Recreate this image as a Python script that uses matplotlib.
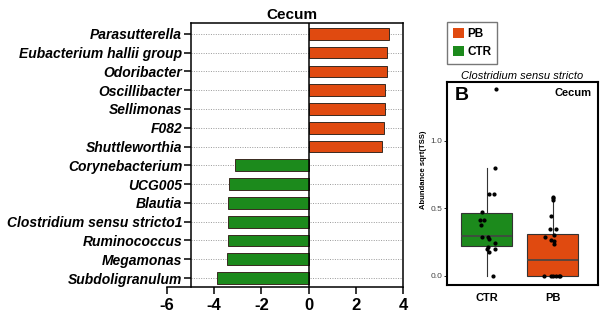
import matplotlib.pyplot as plt
import numpy as np

plt.rcParams['font.family'] = ['Liberation Sans', 'DejaVu Sans']

# LDA scores, Cecum
genera = ["Parasutterella", "Eubacterium hallii group", "Odoribacter", "Oscillibacter",
          "Sellimonas", "F082", "Shuttleworthia", "Corynebacterium", "UCG005", "Blautia",
          "Clostridium sensu stricto1", "Ruminococcus", "Megamonas", "Subdoligranulum"]
scores = [3.40, 3.33, 3.31, 3.26, 3.23, 3.19, 3.13,
          -3.13, -3.37, -3.41, -3.41, -3.42, -3.47, -3.87]

# Clostridium sensu stricto abundance, box stats + individual samples
groups = ["CTR", "PB"]
q1 = [0.222, 0.0]
med = [0.294, 0.116]
q3 = [0.462, 0.309]
whislo = [0.0, 0.0]
whishi = [0.80, 0.585]
ctr_vals = [1.38, 0.80, 0.605, 0.605, 0.47, 0.41, 0.41, 0.375, 0.285, 0.285, 0.27,
            0.24, 0.215, 0.20, 0.198, 0.173, 0.0]
ctr_jit = [0.15, 0.13, 0.03, 0.12, -0.07, -0.10, -0.035, -0.09, -0.07, 0.02, 0.03,
           0.13, 0.02, 0.0, 0.13, 0.04, 0.10]
pb_vals = [0.585, 0.573, 0.56, 0.44, 0.343, 0.343, 0.30, 0.289, 0.264, 0.257, 0.232,
           0.0, 0.0, 0.0, 0.0, 0.0, 0.0]
pb_jit = [0.005, 0.005, 0.005, -0.03, -0.035, 0.055, 0.02, -0.12, -0.02, 0.02, 0.02,
          -0.136, -0.02, 0.0, 0.05, 0.096, 0.116]

orange = '#e04a10'
green = '#1c8a1c'

fig = plt.figure(figsize=(6, 3.24), dpi=100)

# ---- diverging bar chart ----
ax = fig.add_axes([0.2783, 0.1157, 0.3933, 0.812])
y = np.arange(len(genera))
colors = [orange if s > 0 else green for s in scores]
for yi in y:
    ax.plot([-5, 4], [yi, yi], ls=(0, (1, 1.5)), color='#999999', lw=0.7, zorder=0)
ax.barh(y, scores, height=0.62, color=colors, edgecolor='#3a2a20', lw=0.7, zorder=2)
ax.axvline(0, color='black', lw=1.1, zorder=3)
ax.set_xlim(-6, 4)
ax.set_ylim(13.45, -0.55)
ax.spines['left'].set_position(('data', -5))
ax.spines['top'].set_bounds(-5, 4)
for s in ax.spines.values():
    s.set_linewidth(1.1)
ax.set_yticks(y)
ax.set_yticklabels(genera, fontsize=10, fontweight='bold', style='italic')
ax.set_xticks([-6, -4, -2, 0, 2, 4])
ax.set_xticklabels(['-6', '-4', '-2', '0', '2', '4'], fontsize=12, fontweight='bold')
ax.tick_params(axis='y', length=5, width=1.1, pad=1)
ax.tick_params(axis='x', length=5, width=1.1, pad=3)
ax.text(-0.7, -0.6, 'Cecum', ha='center', va='bottom', fontsize=11, fontweight='bold')

# ---- box plot ----
bx = fig.add_axes([0.745, 0.1204, 0.2517, 0.6265])
stats = [dict(q1=q1[i], med=med[i], q3=q3[i], whislo=whislo[i], whishi=whishi[i],
              fliers=[], label=groups[i]) for i in range(2)]
bp = bx.bxp(stats, positions=[1, 2], widths=0.77, patch_artist=True, showcaps=False,
            boxprops=dict(edgecolor='#333333', lw=0.8),
            medianprops=dict(color='#444444', lw=1.2),
            whiskerprops=dict(color='#333333', lw=0.8))
bp['boxes'][0].set_facecolor(green)
bp['boxes'][1].set_facecolor(orange)
bx.scatter(1 + np.array(ctr_jit), ctr_vals, s=4, color='black', zorder=3)
bx.scatter(2 + np.array(pb_jit), pb_vals, s=4, color='black', zorder=3)
bx.set_xlim(0.4, 2.69)
bx.set_ylim(-0.07, 1.435)
bx.set_yticks([0.0, 0.5, 1.0])
bx.set_yticklabels(['0.0', '0.5', '1.0'], fontsize=6, color='#444444')
bx.set_xticks([1, 2])
bx.set_xticklabels(groups, fontsize=8, fontweight='bold')
bx.tick_params(axis='y', length=2, width=0.6, pad=1.5)
bx.tick_params(axis='x', length=0, pad=6)
for s in bx.spines.values():
    s.set_linewidth(1.5)
bx.set_ylabel('Abundance sqrt(TSS)', fontsize=5.5, fontweight='bold')
bx.yaxis.set_label_coords(-0.13, 0.57)
bx.set_title('Clostridium sensu stricto', fontsize=8, style='italic', pad=2)
bx.text(0.05, 0.975, 'B', transform=bx.transAxes, ha='left', va='top',
        fontsize=14, fontweight='bold')
bx.text(0.96, 0.97, 'Cecum', transform=bx.transAxes, ha='right', va='top',
        fontsize=8, fontweight='bold')

# legend
leg_handles = [plt.Rectangle((0, 0), 1, 1, fc=orange, ec='none'),
               plt.Rectangle((0, 0), 1, 1, fc=green, ec='none')]
fig.legend(leg_handles, ['PB', 'CTR'], loc='upper left', bbox_to_anchor=(0.745, 0.932),
           prop=dict(size=8.5, weight='bold'), frameon=True, fancybox=False,
           edgecolor='#555555', handlelength=0.9, handleheight=0.9, handletextpad=0.3,
           borderpad=0.5, labelspacing=0.55, borderaxespad=0)

fig.savefig('out.png', dpi=100)
